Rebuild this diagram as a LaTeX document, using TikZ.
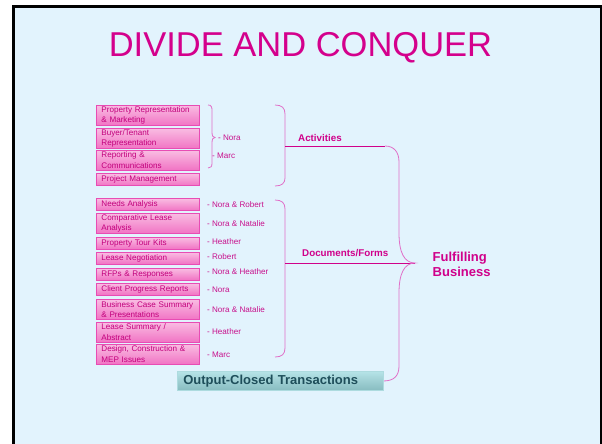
\documentclass[tikz,border=0pt]{standalone}
\usepackage{fontspec}
\setmainfont{Liberation Sans}
\definecolor{slidebg}{HTML}{E2F3FD}
\definecolor{titlecol}{HTML}{D4008C}
\definecolor{boxedge}{HTML}{E84CB4}
\definecolor{pinktop}{HTML}{F9BCE2}
\definecolor{pinkbot}{HTML}{F174C4}
\definecolor{boxtext}{HTML}{C2007C}
\definecolor{namecol}{HTML}{C8108C}
\definecolor{bracecol}{HTML}{E070C8}
\definecolor{linkcol}{HTML}{D0008A}
\definecolor{tealtop}{HTML}{B6E3E7}
\definecolor{tealbot}{HTML}{88BDC1}
\definecolor{tealtext}{HTML}{1E4E5A}
\begin{document}
\begin{tikzpicture}[x=1pt,y=-1pt,
  taskbox/.style={draw=boxedge, line width=0.9pt, top color=pinktop, bottom color=pinkbot,
    text=boxtext, anchor=north west, minimum width=103pt, inner xsep=5pt, inner ysep=0.5pt,
    text width=93pt, align=left, font=\fontsize{8.1}{10.2}\selectfont},
  who/.style={anchor=west, inner sep=0pt, text=namecol, font=\fontsize{8.1}{10}\selectfont},
  tag/.style={anchor=west, inner sep=0pt, text=linkcol, font=\bfseries\fontsize{9.8}{11}\selectfont},
  brace/.style={draw=bracecol, line width=0.8pt},
  link/.style={draw=linkcol, line width=1pt}]
\useasboundingbox (0,0) rectangle (602,444);
% slide background and frame
\fill[white] (0,0) rectangle (602,444);
\fill[slidebg] (13.5,6.3) rectangle (600.8,460);
\draw[black, line width=2.5pt] (13.5,460) -- (13.5,6.3) -- (600.8,6.3) -- (600.8,460);

% title
\node[text=titlecol, font=\fontsize{34.5}{40}\selectfont, inner sep=0pt] (title) at (300.5,48) {DIVIDE AND CONQUER};

% activities
\node[taskbox, minimum height=20pt] (p1) at (96,105) {Property Representation\\\& Marketing};
\node[taskbox, minimum height=20pt] (p2) at (96,128) {Buyer/Tenant\\Representation};
\node[taskbox, minimum height=19.5pt] (p3) at (96,150) {Reporting \&\\Communications};
\node[taskbox, minimum height=12pt] (p4) at (96,173) {Project Management};

% documents / forms
\node[taskbox, minimum height=12pt] (d1) at (96,198) {Needs Analysis};
\node[taskbox, minimum height=20pt] (d2) at (96,213) {Comparative Lease\\Analysis};
\node[taskbox, minimum height=11.5pt] (d3) at (96,237) {Property Tour Kits};
\node[taskbox, minimum height=11.5pt] (d4) at (96,252) {Lease Negotiation};
\node[taskbox, minimum height=11.5pt] (d5) at (96,268) {RFPs \& Responses};
\node[taskbox, minimum height=11.5pt] (d6) at (96,283) {Client Progress Reports};
\node[taskbox, minimum height=20pt] (d7) at (96,299) {Business Case Summary\\\& Presentations};
\node[taskbox, minimum height=19.5pt] (d8) at (96,322) {Lease Summary /\\Abstract};
\node[taskbox, minimum height=19.5pt] (d9) at (96,344) {Design, Construction \&\\MEP Issues};

% owners
\node[who] (wNora) at (218,137.5) {- Nora};
\node[who] (wMarc) at (212,155.5) {- Marc};
\node[who] (w1) at (207,205) {- Nora \& Robert};
\node[who] (w2) at (207,224) {- Nora \& Natalie};
\node[who] (w3) at (207,242) {- Heather};
\node[who] (w4) at (207,257) {- Robert};
\node[who] (w5) at (207,272) {- Nora \& Heather};
\node[who] (w6) at (207,290) {- Nora};
\node[who] (w7) at (207,310) {- Nora \& Natalie};
\node[who] (w8) at (207,332) {- Heather};
\node[who] (w9) at (207,355) {- Marc};

% small brace beside the first three activities
\coordinate (sbTop) at (208,105);
\coordinate (sbTip) at (215,137.5);
\coordinate (sbBot) at (208,168);
\draw[brace] (sbTop) .. controls (211.5,105) and (212,107) .. (212,111) -- (212,132)
  .. controls (212,136) and (213,137.5) .. (sbTip)
  .. controls (213,137.5) and (212,139) .. (212,143) -- (212,163)
  .. controls (212,166.5) and (211,168) .. (sbBot);

% activities brace and link
\coordinate (abTop) at (275,105);
\coordinate (abMid) at (285,146);
\coordinate (abBot) at (275,186);
\draw[brace] (abTop) .. controls (282,105) and (285,108) .. (285,114) -- (285,178)
  .. controls (285,183) and (282,186) .. (abBot);
\coordinate (bbTop) at (385,146);
\draw[link] (abMid) -- (bbTop);
\node[tag] (act) at (298,137.5) {Activities};

% documents brace and link
\coordinate (dbTop) at (275,200);
\coordinate (dbMid) at (285,263);
\coordinate (dbBot) at (275,357);
\draw[brace] (dbTop) .. controls (282,200) and (285,203) .. (285,209) -- (285,348)
  .. controls (285,354) and (282,357) .. (dbBot);
\coordinate (bbTip) at (415,263);
\draw[link] (dbMid) -- (bbTip);
\node[tag] (doc) at (302,253.5) {Documents/Forms};

% large brace gathering everything
\coordinate (bbBot) at (383,381);
\draw[brace] (bbTop) .. controls (394,146) and (399,152) .. (399,162) -- (399,233)
  .. controls (399,252) and (404,263) .. (bbTip)
  .. controls (404,263) and (399,274) .. (399,293) -- (399,366)
  .. controls (399,376) and (394,381) .. (bbBot);

\node[anchor=west, text=linkcol, align=left, inner sep=0pt,
  font=\bfseries\fontsize{13}{15}\selectfont] (goal) at (432.5,264.5) {Fulfilling\\Business};

% output bar
\node[draw=tealtop!80!tealbot, line width=0.6pt, top color=tealtop, bottom color=tealbot,
  anchor=north west, minimum width=206pt, minimum height=18pt, inner xsep=6pt,
  text width=194pt, align=left, text=tealtext,
  font=\bfseries\fontsize{13}{15}\selectfont] (out) at (177,371) {Output-Closed Transactions};
\end{tikzpicture}
\end{document}
